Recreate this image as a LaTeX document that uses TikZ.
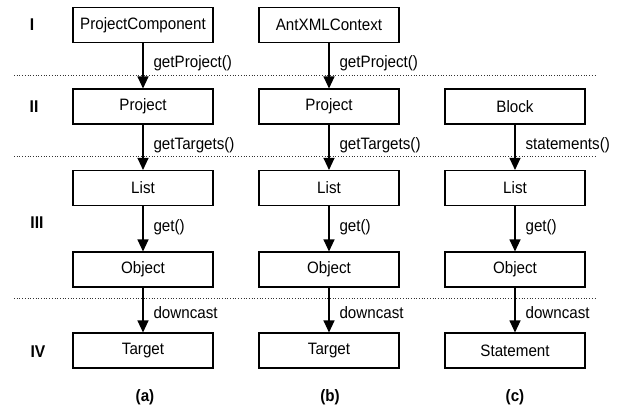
\documentclass[tikz,border=0pt]{standalone}
\usepackage{fontspec}
\setmainfont[FakeStretch=0.92]{Liberation Sans}
\usetikzlibrary{arrows.meta}
\begin{document}
\begin{tikzpicture}[x=1pt,y=-1pt,
  cls/.style={draw,line width=1.1pt,minimum width=140pt,minimum height=35pt,inner sep=0pt,font=\fontsize{16.5}{19}\selectfont},
  call/.style={draw,line width=1.1pt,-{Triangle[width=11pt,length=12pt]}},
  lbl/.style={font=\fontsize{16.5}{19}\selectfont,anchor=west,inner sep=0pt},
  lvl/.style={font=\bfseries\fontsize{17}{19}\selectfont},
  captxt/.style={font=\bfseries\fontsize{16.5}{19}\selectfont},
  sep/.style={line width=0.7pt,dotted,black!80}]
\useasboundingbox (0,0) rectangle (617,405);
% column a
\node[cls] (a1) at (143,25) {ProjectComponent};
\node[cls] (a2) at (143,106.5) {Project};
\node[cls] (a3) at (143,188) {List};
\node[cls] (a4) at (143,269.5) {Object};
\node[cls] (a5) at (143,350.5) {Target};
% column b
\node[cls] (b1) at (329,25) {AntXMLContext};
\node[cls] (b2) at (329,106.5) {Project};
\node[cls] (b3) at (329,188) {List};
\node[cls] (b4) at (329,269.5) {Object};
\node[cls] (b5) at (329,350.5) {Target};
% column c
\node[cls] (c2) at (515,106.5) {Block};
\node[cls] (c3) at (515,188) {List};
\node[cls] (c4) at (515,269.5) {Object};
\node[cls] (c5) at (515,350.5) {Statement};
% separators
\coordinate (s1l) at (14,75); \coordinate (s1r) at (595,75);
\coordinate (s2l) at (14,156); \coordinate (s2r) at (595,156);
\coordinate (s3l) at (14,298); \coordinate (s3r) at (595,298);
\draw[sep] (s1l) -- (s1r);
\draw[sep] (s2l) -- (s2r);
\draw[sep] (s3l) -- (s3r);
% arrows
\foreach \c in {a,b}{
  \draw[call] (\c1) -- node[lbl,xshift=10pt,yshift=3pt]{getProject()} (\c2);
  \draw[call] (\c2) -- node[lbl,xshift=10pt,yshift=2.5pt]{getTargets()} (\c3);
}
\draw[call] (c2) -- node[lbl,xshift=10pt,yshift=2.5pt]{statements()} (c3);
\foreach \c in {a,b,c}{
  \draw[call] (\c3) -- node[lbl,xshift=10pt,yshift=1.5pt]{get()} (\c4);
  \draw[call] (\c4) -- node[lbl,xshift=10pt,yshift=-3pt]{downcast} (\c5);
}
% levels
\node[lvl] (l1) at (32,25) {I};
\node[lvl] (l2) at (34,106.5) {II};
\node[lvl] (l3) at (37,223) {III};
\node[lvl] (l4) at (38,352) {IV};
% captions
\node[captxt] (ca) at (145,397) {(a)};
\node[captxt] (cb) at (330,397) {(b)};
\node[captxt] (cc) at (515,397) {(c)};
\end{tikzpicture}
\end{document}
